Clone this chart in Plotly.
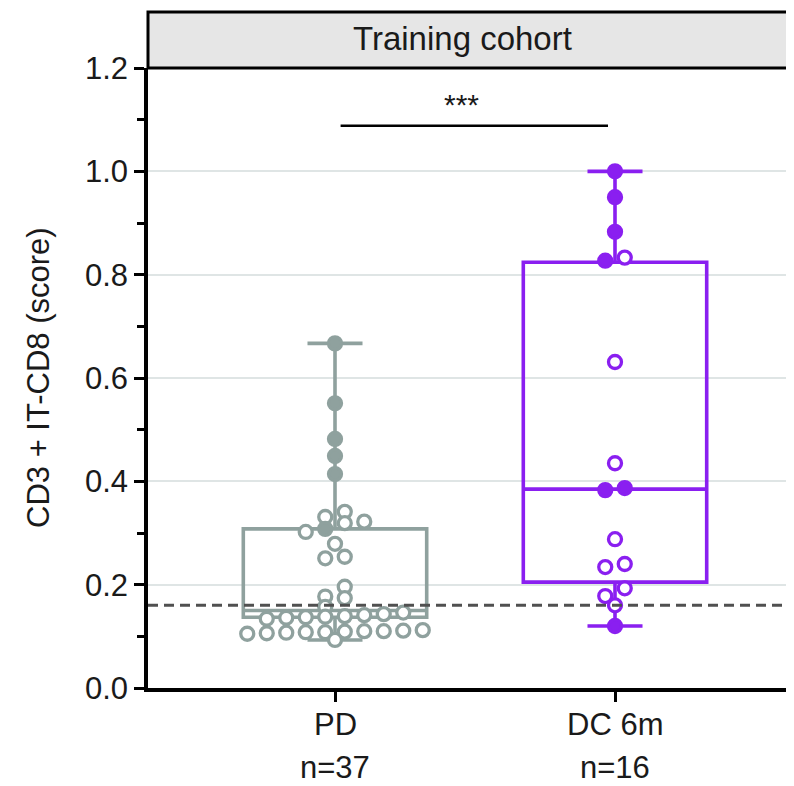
import numpy as np
import plotly.graph_objects as go

# ---------------- data ----------------
categories = ["PD", "DC 6m"]
n_labels = ["n=37", "n=16"]
pd_values = [0.667, 0.551, 0.482, 0.449, 0.414, 0.341, 0.331, 0.322, 0.319,
             0.308, 0.302, 0.279, 0.254, 0.251, 0.196, 0.177, 0.174, 0.157,
             0.146, 0.143, 0.141, 0.139, 0.138, 0.137, 0.136, 0.134,
             0.112, 0.111, 0.110, 0.110, 0.109, 0.108, 0.108, 0.107, 0.106,
             0.105, 0.093]
dc_values = [1.0, 0.95, 0.883, 0.833, 0.827, 0.631, 0.435, 0.387, 0.383,
             0.288, 0.240, 0.234, 0.193, 0.178, 0.160, 0.120]
# box statistics: [min, q1, median, q3, max]
pd_box = [0.093, 0.137, 0.150, 0.308, 0.667]
dc_box = [0.120, 0.205, 0.385, 0.824, 1.0]
cutoff = 0.16
sig_y = 1.088
sig_text = "***"
y_ticks = [0.0, 0.2, 0.4, 0.6, 0.8, 1.0, 1.2]
y_tick_labels = ["0.0", "0.2", "0.4", "0.6", "0.8", "1.0", "1.2"]
y_minor = [0.1, 0.3, 0.5, 0.7, 0.9, 1.1]
panel_title = "Training cohort"
y_title = "CD3 + IT-CD8 (score)"

# ---------------- layout geometry ----------------
W, H = 794, 786
OFF = 8                      # page body margin
ML, MR, MT, MB = 140, 0, 60, 106
plot_w = W - ML - MR
plot_h = H - MT - MB
cat_px = [327, 607]          # figure-pixel position of the two categories
px_x = (cat_px[1] - cat_px[0])
x_range = [(ML - cat_px[0]) / px_x, (W - MR - cat_px[0]) / px_x]
y_range = [0, 1.2]
px_y = plot_h / (y_range[1] - y_range[0])


def paper_x(sx):
    return (sx - OFF - ML) / plot_w


def paper_y(sy):
    return (MT + plot_h - (sy - OFF)) / plot_h


PD_COL = "#8fa19e"
DC_COL = "#8a1ff0"
TXT = "#1a1a1a"
FONT = "Liberation Sans, Arial, sans-serif"

BIN = 0.025       # row bin of the dot plot
DX = 19.5         # horizontal spacing between dots in a row (px)


def dot_offsets(vals):
    bins = {}
    for i, v in enumerate(vals):
        bins.setdefault(int(np.floor(v / BIN + 1e-9)), []).append(i)
    offs = [0.0] * len(vals)
    for idx in bins.values():
        idx = sorted(idx, key=lambda i: vals[i])
        n = len(idx)
        for k, i in enumerate(idx):
            offs[i] = (k - (n - 1) / 2) * DX / px_x
    return offs


def fills(vals, offs, box, col):
    out = []
    for v, o in zip(vals, offs):
        on_whisker = (v > box[3] + 0.04 or v < box[1] - 0.05) and abs(o) < 1e-9
        on_line = abs(v - box[2]) < 0.003 or abs(v - box[3]) < 0.005
        out.append(col if (on_whisker or on_line) else "white")
    return out


fig = go.Figure()

groups = [(0, pd_values, pd_box, PD_COL), (1, dc_values, dc_box, DC_COL)]
for xi, vals, box, col in groups:
    fig.add_trace(go.Box(
        x=[xi], lowerfence=[box[0]], q1=[box[1]], median=[box[2]],
        q3=[box[3]], upperfence=[box[4]],
        width=0.655, whiskerwidth=0.3,
        line=dict(color=col, width=3.6), fillcolor="rgba(0,0,0,0)",
        hoverinfo="skip", showlegend=False))

for xi, vals, box, col in groups:
    offs = dot_offsets(vals)
    fig.add_trace(go.Scatter(
        x=[xi + o for o in offs], y=vals, mode="markers",
        marker=dict(size=13, color=fills(vals, offs, box, col),
                    line=dict(color=col, width=3.3)),
        showlegend=False, hoverinfo="skip"))

shapes = [
    dict(type="rect", xref="paper", yref="paper", x0=0, x1=1.05,
         y0=1, y1=paper_y(12), fillcolor="#e6e6e6",
         line=dict(color="black", width=3), layer="above"),
    dict(type="line", xref="paper", yref="y", x0=0, x1=1, y0=cutoff, y1=cutoff,
         line=dict(color="#505050", width=3, dash="10px,6px"), layer="above"),
    dict(type="line", xref="x", yref="y", x0=0.02, x1=0.975, y0=sig_y, y1=sig_y,
         line=dict(color="black", width=2.5)),
]

annotations = [
    dict(text=panel_title, xref="paper", yref="paper",
         x=paper_x(462), y=paper_y(39), showarrow=False,
         font=dict(size=33, color=TXT, family=FONT),
         xanchor="center", yanchor="middle"),
    dict(text=sig_text, xref="x", yref="paper", x=0.45, y=paper_y(104),
         showarrow=False, font=dict(size=30, color=TXT, family=FONT),
         xanchor="center", yanchor="middle"),
    dict(text=y_title, xref="paper", yref="paper", x=paper_x(38), y=paper_y(378),
         textangle=-90, showarrow=False,
         font=dict(size=31, color=TXT, family=FONT),
         xanchor="center", yanchor="middle"),
]
for i, (c, n) in enumerate(zip(categories, n_labels)):
    annotations.append(dict(text=c, xref="x", yref="paper", x=i, y=paper_y(724),
                            showarrow=False,
                            font=dict(size=31, color=TXT, family=FONT),
                            xanchor="center", yanchor="middle"))
    annotations.append(dict(text=n, xref="x", yref="paper", x=i, y=paper_y(767),
                            showarrow=False,
                            font=dict(size=31, color=TXT, family=FONT),
                            xanchor="center", yanchor="middle"))

fig.update_layout(
    width=W, height=H,
    margin=dict(l=ML, r=MR, t=MT, b=MB, pad=0),
    paper_bgcolor="white", plot_bgcolor="white",
    showlegend=False,
    shapes=shapes, annotations=annotations,
    font=dict(family=FONT, color=TXT),
    xaxis=dict(range=x_range, tickvals=[0, 1], showticklabels=False,
               ticks="outside", ticklen=10, tickwidth=3, tickcolor="black",
               showline=True, linewidth=3.5, linecolor="black",
               showgrid=False, zeroline=False, fixedrange=True),
    yaxis=dict(range=y_range, tickvals=y_ticks, ticktext=y_tick_labels,
               ticks="outside", ticklen=10, tickwidth=3, tickcolor="black",
               tickfont=dict(size=31, color=TXT, family=FONT),
               showline=True, linewidth=3.5, linecolor="black",
               showgrid=True, gridcolor="#dfe5e5", gridwidth=1.5,
               zeroline=False,
               minor=dict(tickvals=y_minor, ticks="outside",
                          ticklen=7, tickwidth=3, tickcolor="black", showgrid=False)),
)

fig.write_html("out.html")
